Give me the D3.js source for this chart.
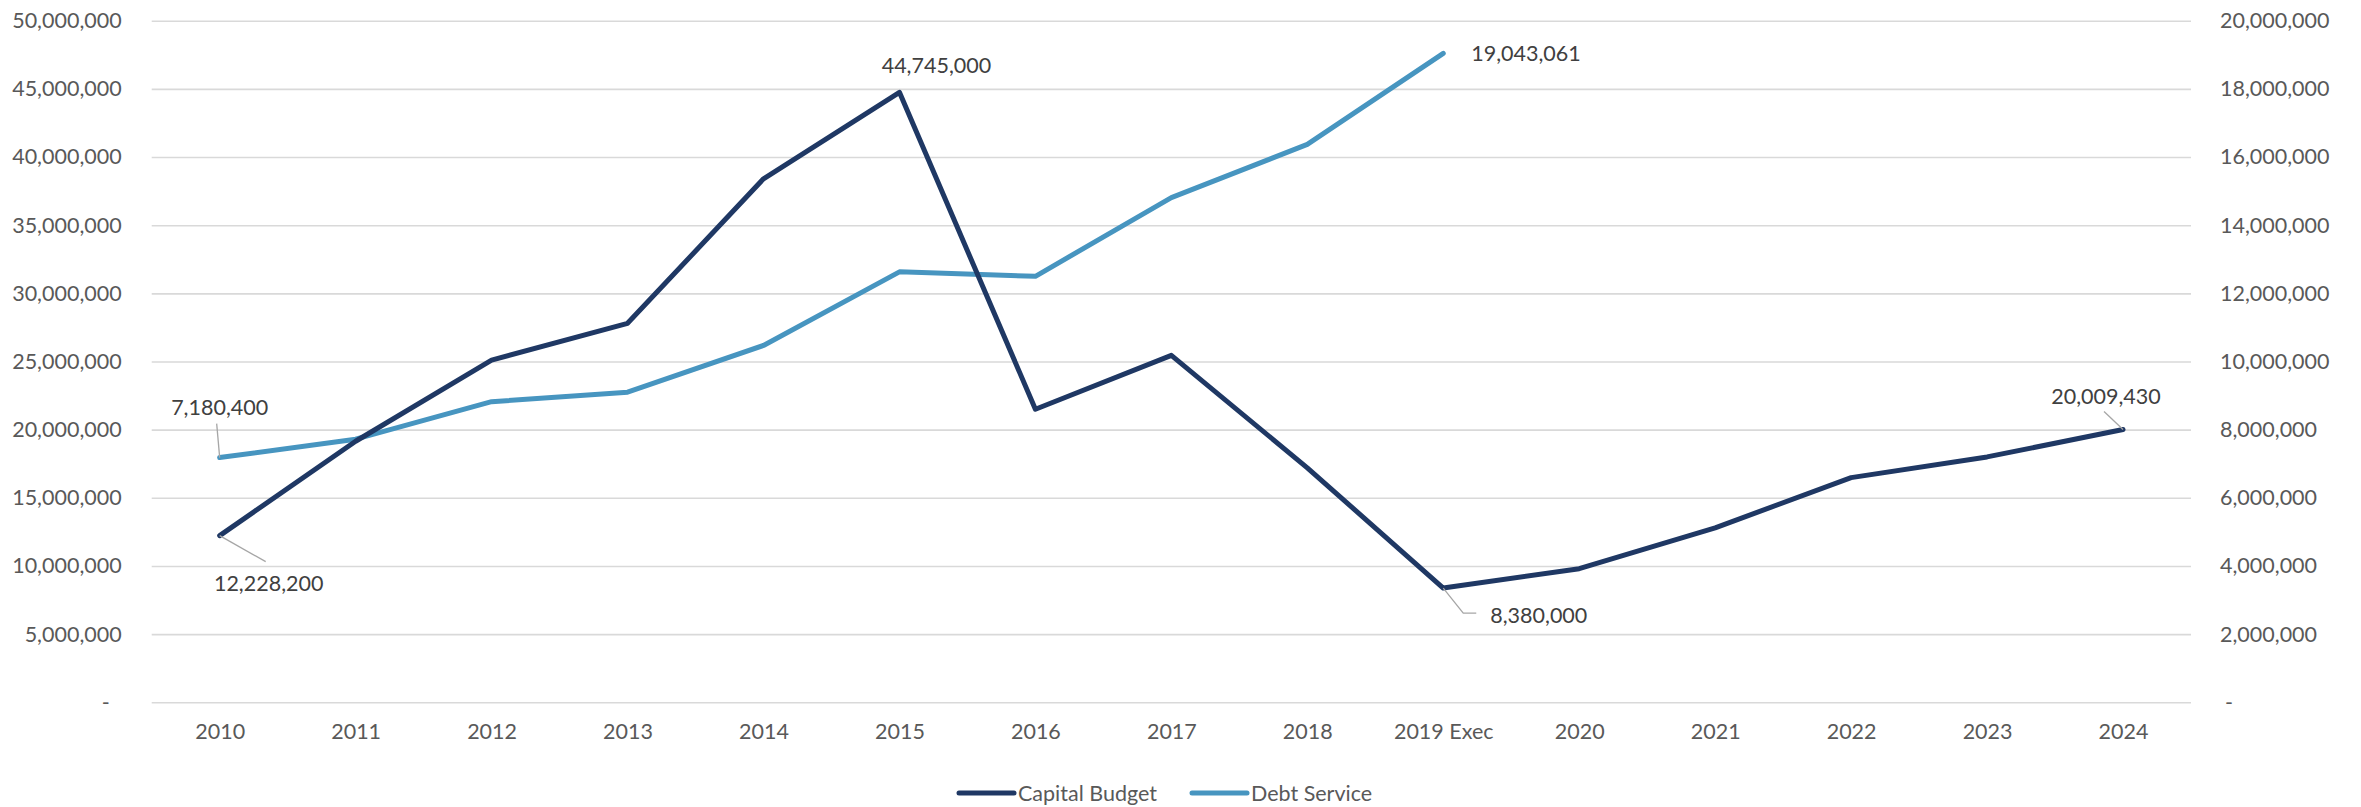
<!DOCTYPE html>
<html>
<head>
<meta charset="utf-8">
<script src="https://cdn.jsdelivr.net/npm/d3@7"></script>
<style>
  body { margin: 0; background: #ffffff; }
  text { font-family: Lato, "Open Sans", sans-serif; fill: #595959; }
</style>
</head>
<body>
<script>
var w = 2361;
var h = 807;

// data
var years = ["2010","2011","2012","2013","2014","2015","2016","2017","2018","2019 Exec","2020","2021","2022","2023","2024"];
var capitalBudget = [12228200, 19150000, 25100000, 27800000, 38400000, 44745000, 21500000, 25450000, 17200000, 8380000, 9800000, 12800000, 16480000, 18000000, 20009430];
var debtService = [7180400, 7720000, 8820000, 9100000, 10470000, 12630000, 12500000, 14810000, 16370000, 19043061];
var leftTicks = [0, 5000000, 10000000, 15000000, 20000000, 25000000, 30000000, 35000000, 40000000, 45000000, 50000000];
var rightTicks = [0, 2000000, 4000000, 6000000, 8000000, 10000000, 12000000, 14000000, 16000000, 18000000, 20000000];
var seriesNames = ["Capital Budget", "Debt Service"];
var seriesColors = ["#1f3864", "#4795c0"];

var plotL = 151.7, plotR = 2191, plotT = 20.7, plotB = 702.3;
var fontSize = 21.5;

var svg = d3.select("body")
            .append("svg")
              .attr("width", w)
              .attr("height", h);

var x = d3.scalePoint().domain(years).range([plotL, plotR]).padding(0.5);
var yL = d3.scaleLinear().domain([0, 50000000]).range([plotB, plotT]);
var yR = d3.scaleLinear().domain([0, 20000000]).range([plotB, plotT]);

var fmt = function(v) { return v === 0 ? "-" : d3.format(",")(v); };

// gridlines
svg.append("g")
  .attr("transform", "translate(" + plotL + ",0)")
  .call(d3.axisLeft(yL).tickValues(leftTicks).tickSize(-(plotR - plotL)).tickFormat(""))
  .call(function(g) {
    g.select(".domain").remove();
    g.selectAll("line").attr("stroke", "#d9d9d9").attr("stroke-width", 1.6);
  });

// left axis
svg.append("g")
  .attr("transform", "translate(" + plotL + ",0)")
  .call(d3.axisLeft(yL).tickValues(leftTicks).tickSize(0).tickPadding(30).tickFormat(fmt))
  .call(function(g) {
    g.select(".domain").remove();
    g.selectAll("text")
      .style("font-size", fontSize + "px")
      .attr("fill", "#595959")
      .attr("dx", function(d) { return d === 0 ? -12 : 0; });
  });

// right axis
svg.append("g")
  .attr("transform", "translate(" + plotR + ",0)")
  .call(d3.axisRight(yR).tickValues(rightTicks).tickSize(0).tickPadding(29).tickFormat(fmt))
  .call(function(g) {
    g.select(".domain").remove();
    g.selectAll("text")
      .style("font-size", fontSize + "px")
      .attr("fill", "#595959")
      .attr("dx", function(d) { return d === 0 ? 5 : 0; });
  });

// x axis labels
svg.append("g")
  .attr("transform", "translate(0," + plotB + ")")
  .call(d3.axisBottom(x).tickSize(0).tickPadding(21))
  .call(function(g) {
    g.select(".domain").remove();
    g.selectAll("text")
      .style("font-size", fontSize + "px")
      .attr("fill", "#595959");
  });

// lines
var capLine = d3.line()
  .x(function(d, i) { return x(years[i]); })
  .y(function(d) { return yL(d); });
var debtLine = d3.line()
  .x(function(d, i) { return x(years[i]); })
  .y(function(d) { return yR(d); });

svg.append("path")
  .datum(debtService)
  .attr("d", debtLine)
  .attr("fill", "none")
  .attr("stroke", seriesColors[1])
  .attr("stroke-width", 5)
  .attr("stroke-linejoin", "round")
  .attr("stroke-linecap", "round");

svg.append("path")
  .datum(capitalBudget)
  .attr("d", capLine)
  .attr("fill", "none")
  .attr("stroke", seriesColors[0])
  .attr("stroke-width", 5)
  .attr("stroke-linejoin", "round")
  .attr("stroke-linecap", "round");

// data labels
function label(px, py, dx, dy, anchor, txt) {
  svg.append("text")
    .attr("x", px + dx)
    .attr("y", py + dy)
    .attr("text-anchor", anchor)
    .attr("dominant-baseline", "central")
    .style("font-size", fontSize + "px")
    .style("fill", "#404040")
    .text(txt);
}
function leader(pts) {
  svg.append("path")
    .attr("d", d3.line()(pts))
    .attr("fill", "none")
    .attr("stroke", "#a6a6a6")
    .attr("stroke-width", 1.3);
}

var p;
// debt service 2010
p = [x(years[0]), yR(debtService[0])];
leader([[p[0], p[1]], [p[0] - 3, p[1] - 34]]);
label(p[0], p[1], 0, -51, "middle", d3.format(",")(debtService[0]));

// capital 2010
p = [x(years[0]), yL(capitalBudget[0])];
leader([[p[0], p[1]], [p[0] + 46, p[1] + 26]]);
label(p[0], p[1], 49, 47, "middle", d3.format(",")(capitalBudget[0]));

// capital 2015
p = [x(years[5]), yL(capitalBudget[5])];
label(p[0], p[1], 37, -27, "middle", d3.format(",")(capitalBudget[5]));

// debt 2019 exec
p = [x(years[9]), yR(debtService[9])];
label(p[0], p[1], 28, 0, "start", d3.format(",")(debtService[9]));

// capital 2019 exec
p = [x(years[9]), yL(capitalBudget[9])];
leader([[p[0], p[1]], [p[0] + 20, p[1] + 25], [p[0] + 33, p[1] + 25]]);
label(p[0], p[1], 47, 27, "start", d3.format(",")(capitalBudget[9]));

// capital 2024
p = [x(years[14]), yL(capitalBudget[14])];
leader([[p[0], p[1]], [p[0] - 19, p[1] - 18]]);
label(p[0], p[1], -17, -34, "middle", d3.format(",")(capitalBudget[14]));

// legend
var legendX = [959, 1192];
var legend = svg.append("g").attr("transform", "translate(0,793)");
seriesNames.forEach(function(name, i) {
  legend.append("line")
    .attr("x1", legendX[i]).attr("x2", legendX[i] + 55)
    .attr("y1", 0).attr("y2", 0)
    .attr("stroke", seriesColors[i])
    .attr("stroke-width", 5)
    .attr("stroke-linecap", "round");
  legend.append("text")
    .attr("x", legendX[i] + 59)
    .attr("y", 0)
    .attr("dominant-baseline", "central")
    .style("font-size", fontSize + "px")
    .text(name);
});
</script>
</body>
</html>
